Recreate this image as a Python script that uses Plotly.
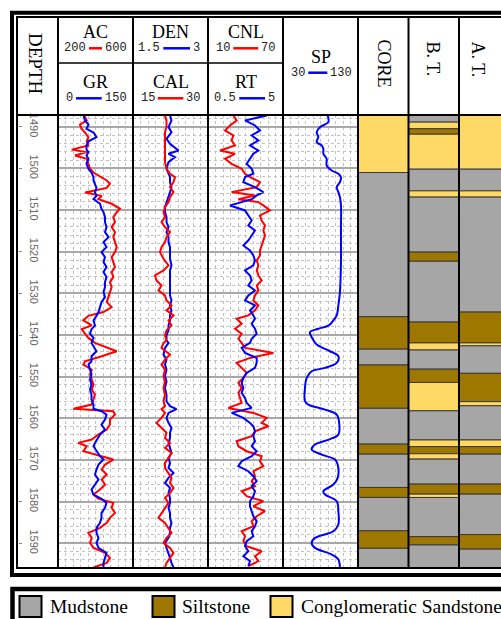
import plotly.graph_objects as go

W, H = 501, 619

# ---------------- data ----------------
DEPTH_TOP, DEPTH_BOT = 1487.19, 1595.93

# Track 1: AC (red, 200-600) and GR (blue, 0-150)
T1_DEPTH = [1487.3, 1488.5, 1489.5, 1490.5, 1491.4, 1492.5, 1493.5, 1494.5, 1495.5, 1496.1,
            1496.9, 1497.7, 1498.9, 1500.1, 1501.0, 1502.1, 1502.9, 1503.7, 1504.7, 1505.8,
            1506.6, 1507.4, 1508.5, 1509.7, 1510.5, 1511.7, 1512.9, 1514.1, 1515.3, 1516.5,
            1517.7, 1518.9, 1520.1, 1521.3, 1522.5, 1523.7, 1524.9, 1526.1, 1527.3, 1528.5,
            1529.7, 1530.9, 1532.1, 1533.3, 1534.5, 1535.4, 1536.5, 1537.7, 1538.6, 1539.7,
            1540.7,
            1541.9, 1543.9, 1545.1, 1546.3, 1547.1, 1548.3, 1549.5, 1550.7, 1551.9, 1553.1,
            1554.3, 1555.5, 1556.7, 1557.7, 1558.3, 1559.1, 1560.3, 1561.5, 1562.7, 1563.9,
            1565.1, 1565.9, 1566.7, 1567.9, 1569.1, 1569.9, 1571.1, 1572.3, 1573.5, 1574.7,
            1575.9, 1577.1, 1578.3, 1579.3, 1580.3, 1581.5, 1582.7, 1583.9, 1585.1, 1586.3,
            1587.5, 1588.7, 1589.9, 1591.1, 1592.3, 1593.5, 1594.7, 1595.8]
AC = [340, 353, 317, 326, 344, 362, 353, 362, 273, 353,
      291, 353, 362, 371, 389, 433, 460, 477, 460, 344,
      433, 415, 486, 531, 513, 495, 504, 486, 504, 495,
      504, 513, 504, 486, 495, 504, 486, 495, 477, 486,
      477, 468, 460, 486, 442, 362, 335, 380, 326, 344,
      362,
      397, 513, 433, 344, 335, 380, 371, 380, 389, 380,
      397, 389, 380, 282, 495, 504, 477, 477, 460, 415,
      380, 308, 353, 335, 433, 495, 451, 433, 460, 433,
      451, 424, 389, 415, 495, 486, 504, 477, 460, 424,
      362, 380, 371, 389, 451, 477, 460, 389]
GR = [51, 54, 61, 57, 71, 77, 61, 57, 57, 61,
      57, 61, 57, 61, 67, 71, 71, 74, 77, 74,
      77, 71, 84, 87, 91, 94, 94, 97, 94, 101,
      91, 97, 87, 94, 91, 97, 91, 97, 94, 94,
      91, 94, 87, 84, 81, 77, 71, 74, 67, 64,
      71,
      67, 77, 67, 67, 61, 64, 67, 64, 67, 64,
      67, 67, 71, 71, 87, 97, 94, 87, 94, 84,
      77, 74, 71, 77, 84, 91, 81, 77, 74, 81,
      74, 67, 71, 87, 97, 94, 87, 87, 84, 77,
      77, 81, 77, 81, 97, 94, 91, 91]

# Track 2: DEN (blue, 1.5-3) and CAL (red, 15-30)
T2_DEPTH = [1487.3, 1488.5, 1490.1, 1491.3, 1492.9, 1494.1, 1495.7, 1496.5, 1497.3, 1498.5,
            1500.1, 1501.3, 1502.1, 1503.3, 1504.5, 1505.7, 1506.9, 1508.1, 1509.3, 1510.5,
            1511.7, 1512.9, 1514.1, 1515.3, 1516.5, 1517.7, 1518.9, 1520.1, 1521.7, 1523.3,
            1524.5, 1525.7, 1526.9, 1528.1, 1529.3, 1530.5, 1531.7, 1532.9, 1534.1, 1535.3,
            1536.5, 1537.7, 1538.9, 1540.1, 1541.3,
            1541.9, 1543.1, 1544.7, 1545.9, 1547.1, 1548.3, 1549.9, 1551.1, 1552.7, 1554.3,
            1555.9, 1557.1, 1557.8, 1558.7, 1559.9, 1561.1, 1562.3, 1563.5, 1564.7, 1565.9,
            1567.1, 1568.3, 1569.5, 1570.7, 1571.9, 1573.1, 1574.3, 1575.5, 1576.7, 1577.9,
            1579.1, 1580.3, 1581.5, 1582.7, 1583.9, 1585.1, 1586.3, 1587.5, 1588.7, 1589.9,
            1591.1, 1592.3, 1593.5, 1594.7, 1595.8]
DEN = [2.24, 2.27, 2.21, 2.27, 2.17, 2.24, 2.41, 2.21, 2.34, 2.21,
       2.17, 2.21, 2.24, 2.24, 2.27, 2.24, 2.21, 2.17, 2.14, 2.14,
       2.17, 2.17, 2.21, 2.17, 2.21, 2.21, 2.24, 2.24, 2.24, 2.27,
       2.24, 2.24, 2.24, 2.24, 2.24, 2.24, 2.27, 2.24, 2.27, 2.24,
       2.24, 2.21, 2.21, 2.17, 2.17,
       2.21, 2.14, 2.11, 2.17, 2.14, 2.17, 2.14, 2.17, 2.14, 2.17,
       2.17, 2.24, 2.37, 2.21, 2.17, 2.21, 2.27, 2.24, 2.24, 2.21,
       2.24, 2.27, 2.21, 2.24, 2.21, 2.31, 2.21, 2.14, 2.24, 2.21,
       2.24, 2.24, 2.21, 2.24, 2.24, 2.27, 2.24, 2.24, 2.21, 2.14,
       2.17, 2.21, 2.24, 2.27, 2.31]
CAL = [21.4, 21.7, 21.7, 21.4, 21.4, 21.4, 21.4, 21.4, 21.4, 21.4,
       21.7, 22.4, 23.4, 23.1, 22.4, 23.1, 22.4, 22.1, 21.4, 21.1,
       21.4, 20.7, 21.4, 22.4, 21.7, 21.4, 20.7, 20.4, 21.1, 22.1,
       21.1, 19.4, 19.7, 20.7, 20.1, 21.4, 21.7, 22.7, 21.7, 23.1,
       22.1, 22.7, 21.7, 21.4, 21.7,
       21.1, 20.7, 22.4, 21.4, 20.7, 21.4, 21.1, 21.4, 21.1, 21.4,
       21.1, 21.4, 20.7, 21.4, 20.7, 19.7, 20.7, 21.7, 21.4, 22.4,
       21.4, 22.7, 22.1, 21.4, 21.4, 22.1, 22.7, 22.4, 23.1, 22.4,
       21.4, 22.1, 21.4, 20.7, 20.1, 21.4, 22.1, 22.7, 21.7, 21.1,
       22.4, 23.1, 22.4, 21.7, 21.4]

# Track 3: CNL (red, 10-70) and RT (blue, 0.5-5)
T3_DEPTH = [1487.3, 1488.5, 1489.7, 1490.9, 1492.1, 1493.3, 1494.5, 1495.7, 1496.5, 1497.7,
            1498.9, 1500.1, 1501.3, 1502.1, 1503.3, 1504.5, 1505.7, 1506.5, 1507.4, 1508.1,
            1508.9, 1510.1, 1511.3, 1512.5, 1513.7, 1514.9, 1516.1, 1517.3, 1518.5, 1519.7,
            1520.9, 1522.1, 1523.3, 1524.5, 1525.7, 1526.9, 1528.1, 1529.3, 1530.5, 1531.7,
            1532.9, 1534.1, 1535.3, 1536.1, 1537.3, 1538.5, 1539.7, 1540.9,
            1541.9, 1543.1, 1544.3, 1545.5, 1546.7, 1547.9, 1549.1, 1550.3, 1551.5, 1552.7,
            1553.9, 1555.1, 1556.3, 1557.5, 1558.7, 1559.9, 1561.1, 1561.9, 1563.1, 1564.3,
            1565.5, 1566.7, 1567.9, 1569.1, 1570.3, 1571.5, 1572.7, 1573.9, 1575.1, 1576.3,
            1577.5, 1578.7, 1579.9, 1581.1, 1582.3, 1583.5, 1584.7, 1585.9, 1587.1, 1588.3,
            1589.5, 1590.7, 1591.9, 1593.1, 1594.3, 1595.5]
CNL = [30.3, 32.9, 27.6, 23.6, 30.3, 28.9, 31.6, 19.6, 31.6, 23.6,
       28.9, 36.9, 39.6, 43.6, 51.6, 49.0, 28.9, 47.6, 34.3, 50.3,
       54.3, 59.6, 51.6, 52.9, 55.6, 54.3, 55.6, 54.3, 52.9, 51.6,
       51.6, 49.0, 50.3, 49.0, 50.3, 52.9, 49.0, 50.3, 47.6, 46.3,
       50.3, 47.6, 42.3, 32.9, 36.9, 31.6, 36.9, 34.3,
       36.9, 39.6, 62.3, 43.6, 32.9, 36.9, 40.9, 38.3, 34.3, 36.9,
       34.3, 35.6, 36.9, 26.3, 46.3, 56.9, 53.0, 58.3, 47.6, 44.9,
       32.9, 34.3, 40.9, 52.9, 51.6, 54.3, 46.3, 47.6, 44.9, 47.6,
       36.9, 40.9, 54.3, 46.3, 55.6, 49.0, 44.9, 46.3, 36.9, 39.6,
       38.3, 40.9, 52.9, 47.6, 50.3, 42.3]
RT = [4.02, 2.72, 3.32, 3.62, 3.12, 3.52, 3.02, 3.52, 3.22, 3.02,
      2.82, 3.12, 3.22, 2.72, 2.62, 3.32, 3.82, 3.42, 3.12, 2.52,
      1.82, 2.72, 2.92, 3.12, 2.92, 3.32, 3.12, 2.92, 2.62, 3.02,
      3.22, 3.32, 3.22, 2.72, 3.02, 3.12, 2.92, 3.32, 2.92, 2.72,
      3.32, 3.02, 3.22, 3.32, 3.12, 3.32, 3.42, 3.12,
      3.02, 2.52, 2.72, 3.42, 3.42, 3.32, 2.82, 2.62, 2.52, 2.62,
      2.52, 2.72, 2.82, 3.12, 1.92, 2.62, 3.02, 3.22, 3.32, 3.22,
      3.32, 3.12, 3.42, 3.12, 2.52, 2.32, 2.92, 3.22, 3.42, 3.12,
      3.32, 3.22, 3.02, 3.02, 3.12, 3.22, 3.42, 3.32, 3.12, 3.22,
      2.82, 2.72, 2.92, 2.62, 3.02, 2.92]

# Track 4: SP (blue, 30-130)
SP_DEPTH = [1487.3, 1488.9, 1490.1, 1491.3, 1492.5, 1493.7, 1494.5, 1495.3, 1496.5, 1497.7,
            1499.3, 1500.5, 1501.3, 1502.1, 1503.3, 1504.5, 1505.7, 1506.9, 1508.9, 1514.5,
            1522.5, 1529.7, 1532.9, 1535.3, 1536.5, 1537.7, 1538.5, 1539.3, 1540.5, 1542.3,
            1543.9, 1545.1, 1546.7, 1547.9, 1548.7, 1550.3, 1552.7, 1555.9, 1556.7, 1557.9,
            1559.1, 1561.5, 1563.9, 1565.1, 1566.3, 1567.5, 1568.7, 1569.9, 1571.1, 1574.3,
            1575.9, 1577.5, 1578.3, 1579.9, 1582.3, 1585.5, 1587.1, 1588.7, 1589.9, 1591.1,
            1592.7, 1593.9, 1595.8]
SP = [89.6, 90.4, 79.3, 74.9, 77.1, 74.9, 81.6, 83.8, 83.8, 88.2,
      88.2, 94.9, 103.8, 107.3, 105.9, 101.6, 103.8, 105.9, 107.3, 107.3,
      107.3, 105.9, 103.8, 101.6, 97.1, 91.0, 77.1, 66.0, 68.2, 74.9,
      92.7, 103.8, 101.6, 86.0, 68.2, 61.6, 59.3, 59.3, 63.8, 86.0,
      101.6, 105.1, 103.8, 91.0, 72.7, 68.2, 81.6, 99.3, 102.9, 102.9,
      97.1, 83.8, 86.0, 101.6, 103.8, 103.8, 97.1, 72.7, 68.2, 72.7,
      94.9, 103.8, 105.9]

# Lithology columns (layer tops, lithology code); M=Mudstone S=Siltstone C=Conglomeratic Sandstone
LITH_COLUMNS = ["CORE", "B. T.", "A. T."]
CORE_TOP = [1487.0, 1501.0, 1535.6, 1543.4, 1547.2, 1557.6, 1566.2, 1568.6, 1576.6, 1579.0, 1587.0, 1591.2]
CORE_LITH = ["C", "M", "S", "M", "S", "M", "S", "M", "S", "M", "S", "M"]
BT_TOP = [1487.0, 1488.9, 1490.5, 1491.8, 1500.2, 1505.4, 1506.9, 1520.1, 1522.3, 1536.9,
          1541.9, 1543.6, 1548.2, 1551.4, 1558.2, 1565.2, 1566.8, 1568.5, 1569.8, 1575.8,
          1578.2, 1579.0, 1588.4, 1590.4]
BT_LITH = ["M", "C", "S", "C", "M", "C", "M", "S", "M", "S",
           "C", "M", "S", "C", "M", "C", "S", "C", "M", "S",
           "C", "M", "S", "M"]
AT_TOP = [1487.0, 1500.2, 1505.4, 1506.9, 1534.5, 1541.9, 1542.6, 1549.2, 1556.0, 1557.0,
          1565.2, 1566.8, 1568.6, 1575.8, 1578.2, 1587.9, 1591.4]
AT_LITH = ["C", "M", "C", "M", "S", "C", "M", "S", "C", "M",
           "C", "S", "M", "S", "M", "S", "M"]
LITH_BASE = 1597.0
LITH_NAMES = {"M": "Mudstone", "S": "Siltstone", "C": "Conglomeratic Sandstone"}
LITH_COLORS = {"M": "#a6a6a6", "S": "#9e7700", "C": "#ffd966"}
LEGEND_ORDER = ["M", "S", "C"]

# ---------------- helpers ----------------
def fx(p):
    return p / W

def fy(p):
    return 1 - p / H

RED, BLUE = "#ff0000", "#0000ff"
SERIF = "Liberation Serif"

fig = go.Figure()

def curve(x, y, color, xa, shape="linear"):
    fig.add_trace(go.Scatter(x=x, y=y, mode="lines", xaxis=xa, yaxis="y",
                             line=dict(color=color, width=2, shape=shape),
                             showlegend=False, hoverinfo="skip"))

# lithology bars
for col, tops, liths in zip(LITH_COLUMNS, [CORE_TOP, BT_TOP, AT_TOP], [CORE_LITH, BT_LITH, AT_LITH]):
    bottoms = tops[1:] + [LITH_BASE]
    thick = [b - t for t, b in zip(tops, bottoms)]
    fig.add_trace(go.Bar(x=[col] * len(tops), y=thick, base=tops, width=1,
                         marker=dict(color=[LITH_COLORS[l] for l in liths],
                                     line=dict(color="#3a3a3a", width=1)),
                         xaxis="x8", yaxis="y", showlegend=False, hoverinfo="skip"))

curve(GR, T1_DEPTH, BLUE, "x2")
curve(AC, T1_DEPTH, RED, "x")
curve(CAL, T2_DEPTH, RED, "x4")
curve(DEN, T2_DEPTH, BLUE, "x3")
curve(CNL, T3_DEPTH, RED, "x5")
curve(RT, T3_DEPTH, BLUE, "x6")
curve(SP, SP_DEPTH, BLUE, "x7", shape="spline")

hidden = dict(showgrid=False, zeroline=False, showline=False, showticklabels=False, ticks="")
gridx = dict(showgrid=True, gridcolor="#c2c2c2", griddash="dot", gridwidth=1,
             zeroline=False, showline=False, showticklabels=False, ticks="")

COL_W = 50.5
layout = dict(
    width=W, height=H, template="none",
    margin=dict(l=0, r=0, t=0, b=0, pad=0),
    paper_bgcolor="white", plot_bgcolor="white",
    barmode="overlay", showlegend=False,
    xaxis=dict(domain=[fx(58), fx(133)], range=[200, 600], tick0=200, dtick=40, anchor="y", **gridx),
    xaxis2=dict(overlaying="x", range=[0, 150], anchor="y", **hidden),
    xaxis3=dict(domain=[fx(133), fx(208)], range=[1.5, 3], tick0=1.5, dtick=0.15, anchor="y", **gridx),
    xaxis4=dict(overlaying="x3", range=[15, 30], anchor="y", **hidden),
    xaxis5=dict(domain=[fx(208), fx(283)], range=[10, 70], tick0=10, dtick=6, anchor="y", **gridx),
    xaxis6=dict(overlaying="x5", range=[0.5, 5], anchor="y", **hidden),
    xaxis7=dict(domain=[fx(283), fx(358)], range=[30, 130], tick0=30, dtick=10, anchor="y", **gridx),
    xaxis8=dict(domain=[fx(358), 1], type="category", categoryorder="array",
                categoryarray=LITH_COLUMNS, range=[-0.5, -0.5 + (W - 358) / COL_W],
                anchor="y", **hidden),
    yaxis=dict(domain=[fy(568), fy(115)], range=[DEPTH_BOT, DEPTH_TOP],
               anchor="free", position=fx(17.5), side="right",
               tickmode="linear", tick0=1490, dtick=10,
               ticks="outside", ticklen=3, tickwidth=1, tickcolor="#808080",
               tickangle=90, ticklabelstandoff=4,
               tickfont=dict(family="Liberation Sans", size=11, color="#666666"),
               showgrid=True, gridcolor="#a8a8a8", gridwidth=2,
               zeroline=False, showline=False,
               minor=dict(tick0=1490, dtick=2, showgrid=True, gridcolor="#c2c2c2",
                          griddash="dot", gridwidth=1, ticks="")),
)

shapes = []
def line(x0, y0, x1, y1, w=2, c="black"):
    shapes.append(dict(type="line", xref="paper", yref="paper", x0=fx(x0), y0=fy(y0),
                       x1=fx(x1), y1=fy(y1), line=dict(color=c, width=w)))

def rect(x0, y0, x1, y1, w=2, c="black", fill=None):
    d = dict(type="rect", xref="paper", yref="paper", x0=fx(x0), y0=fy(y0),
             x1=fx(x1), y1=fy(y1), line=dict(color=c, width=w))
    if fill:
        d["fillcolor"] = fill
    shapes.append(d)

# frames
rect(12, 12.8, 530, 575, w=4)
rect(17, 17, 530, 568, w=2)
line(17, 115, 530, 115, w=2)
line(58, 63, 283, 63, w=1.5)
for xv in [58, 133, 208, 283, 358, 408.5, 459]:
    line(xv, 17, xv, 568, w=2)

annotations = []
def text(x, y, s, size=18, family=SERIF, color="black", xanchor="center", angle=0):
    annotations.append(dict(xref="paper", yref="paper", x=fx(x), y=fy(y), text=s,
                            showarrow=False, xanchor=xanchor, yanchor="middle",
                            textangle=angle, font=dict(family=family, size=size, color=color)))

# header titles
text(35, 64, "DEPTH", size=19, angle=90)
text(95.5, 32, "AC")
text(95.5, 82, "GR")
text(170.5, 32, "DEN")
text(170.5, 82, "CAL")
text(245.5, 32, "CNL")
text(245.5, 82, "RT")
text(320.5, 57, "SP")
text(383.5, 63, "CORE", angle=90)
text(432.5, 59, "B. T.", angle=90)
text(477.5, 59, "A. T.", angle=90)

# scale bars: (left label, right label, color, line x0, line x1, y)
SCALES = [("200", "600", RED, 89, 102, 48.3),
          ("0", "150", BLUE, 76, 101.7, 98.3),
          ("1.5", "3", BLUE, 163.3, 190, 48.3),
          ("15", "30", RED, 157.7, 183.3, 98.3),
          ("10", "70", RED, 233.3, 258.3, 48.3),
          ("0.5", "5", BLUE, 239.3, 265, 98.3),
          ("30", "130", BLUE, 308.3, 327.3, 72.7)]
for lo, hi, col, x0, x1, yv in SCALES:
    line(x0, yv, x1, yv, w=2.5, c=col)
    text(x0 - 1, yv, lo, size=12, family="Liberation Mono", color="#222222", xanchor="right")
    text(x1 + 1, yv, hi, size=12, family="Liberation Mono", color="#222222", xanchor="left")

# legend box
rect(12.5, 589, 530, 650, w=4.5)
LEG_X = [(19.5, 48), (152.5, 180), (270.5, 299)]
for code, (sx, tx) in zip(LEGEND_ORDER, LEG_X):
    rect(sx, 596, sx + 22, 617, w=2, fill=LITH_COLORS[code])
    text(tx, 606, LITH_NAMES[code], size=19.5, xanchor="left")

layout["shapes"] = shapes
layout["annotations"] = annotations
fig.update_layout(**layout)
fig.write_html("out.html")
